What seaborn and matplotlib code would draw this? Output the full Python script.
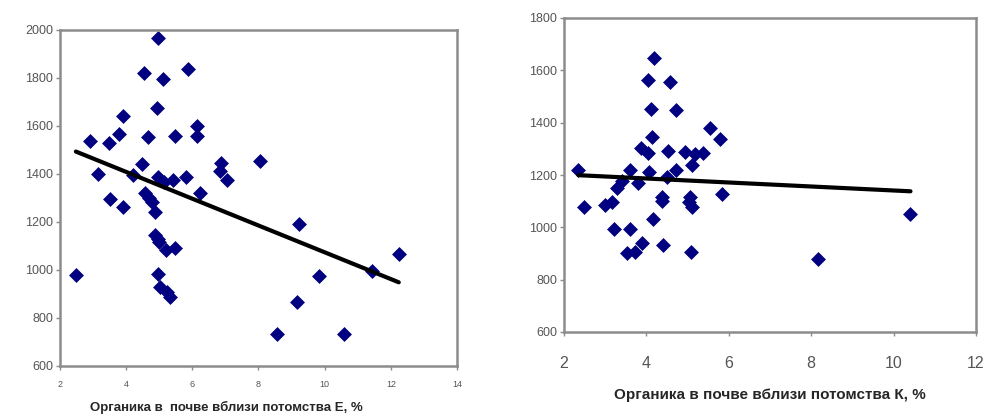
"""Two scatter plots with linear trend: organics in soil vs. offspring trait."""

import matplotlib

matplotlib.use("Agg")
import matplotlib.pyplot as plt
import numpy as np
import seaborn as sns

# Panel E: organics near offspring E (%) vs. trait value
organic_e = [
    4.96, 4.55, 5.10, 5.86, 4.94, 3.91, 2.91, 3.48, 3.78, 4.65,
    5.47, 6.15, 6.13, 3.14, 4.49, 4.20, 4.95, 5.15, 5.42, 5.81,
    6.23, 6.88, 6.83, 7.04, 3.52, 4.57, 4.70, 4.77, 3.91, 4.87,
    4.87, 4.95, 5.00, 5.19, 5.47, 2.48, 4.97, 5.02, 5.22, 5.32,
    9.23, 12.24, 11.42, 9.83, 9.17, 8.57, 10.58, 8.04,
]
value_e = [
    1968, 1822, 1797, 1836, 1676, 1643, 1537, 1530, 1567, 1554,
    1558, 1601, 1558, 1401, 1442, 1396, 1389, 1365, 1375, 1387,
    1322, 1447, 1413, 1375, 1296, 1319, 1300, 1285, 1264, 1240,
    1146, 1130, 1115, 1083, 1093, 979, 983, 928, 910, 886,
    1190, 1065, 997, 976, 868, 733, 733, 1454,
]

# Panel K: organics near offspring K (%) vs. trait value
organic_k = [
    4.18, 4.03, 4.57, 4.11, 4.71, 4.13, 5.54, 5.79, 3.86, 4.05,
    4.53, 4.94, 5.18, 5.38, 5.10, 2.35, 3.60, 4.07, 3.40, 3.80,
    4.49, 4.73, 3.28, 4.37, 5.06, 5.84, 2.49, 3.00, 3.16, 4.37,
    5.03, 5.10, 4.15, 3.21, 3.59, 3.52, 3.72, 3.89, 4.41, 5.08,
    10.41, 8.17,
]
value_k = [
    1648, 1563, 1554, 1451, 1448, 1346, 1379, 1336, 1304, 1283,
    1292, 1289, 1280, 1283, 1238, 1219, 1219, 1210, 1177, 1168,
    1194, 1219, 1149, 1117, 1117, 1127, 1077, 1085, 1098, 1102,
    1098, 1077, 1031, 994, 993, 903, 907, 939, 933, 907,
    1051, 879,
]

xticks_e = np.arange(2, 15, 2)
yticks_e = np.arange(600, 2001, 200)
xticks_k = np.arange(2, 13, 2)
yticks_k = np.arange(600, 1801, 200)

sns.set_style("white")
plt.rcParams["font.family"] = ["Liberation Sans", "DejaVu Sans"]

W, H = 987, 416
fig = plt.figure(figsize=(W / 100, H / 100), dpi=100)


def px_axes(left, top, right, bottom):
    return fig.add_axes([left / W, 1 - bottom / H, (right - left) / W, (bottom - top) / H])


def style_axes(ax, xfs, yfs, xpad):
    for sp in ax.spines.values():
        sp.set_visible(True)
        sp.set_color("#8c8c8c")
        sp.set_linewidth(1.8)
    ax.tick_params(axis="both", direction="out", length=3, width=1,
                   color="#8c8c8c", left=True, bottom=True)
    ax.tick_params(axis="x", labelsize=xfs, labelcolor="#555555", pad=xpad)
    ax.tick_params(axis="y", labelsize=yfs, labelcolor="#555555", pad=2)


scatter_kws = dict(s=50, color="#000080", edgecolor="#000080", linewidths=0.5, alpha=1)
line_kws = dict(color="black", lw=3, solid_capstyle="round")

ax1 = px_axes(60, 30, 457, 366)
sns.regplot(x=organic_e, y=value_e, ax=ax1, ci=None, marker="D",
            scatter_kws=scatter_kws, line_kws=line_kws)
ax1.set_xlim(2, 14)
ax1.set_ylim(600, 2000)
ax1.set_xticks(xticks_e)
ax1.set_yticks(yticks_e)
style_axes(ax1, 6.5, 9, 7)
ax1.set_xlabel("Органика в  почве вблизи потомства Е, %", fontsize=9.5,
               fontweight="bold")
ax1.xaxis.set_label_coords(0.42, -0.105)

ax2 = px_axes(564, 18, 976, 332)
sns.regplot(x=organic_k, y=value_k, ax=ax2, ci=None, marker="D",
            scatter_kws=scatter_kws, line_kws=line_kws)
ax2.set_xlim(2, 12)
ax2.set_ylim(600, 1800)
ax2.set_xticks(xticks_k)
ax2.set_yticks(yticks_k)
style_axes(ax2, 11.5, 9, 14)
ax2.set_xlabel("Органика в почве вблизи потомства К, %", fontsize=11,
               fontweight="bold")
ax2.xaxis.set_label_coords(0.5, -0.178)

fig.savefig("out.png", dpi=100)
